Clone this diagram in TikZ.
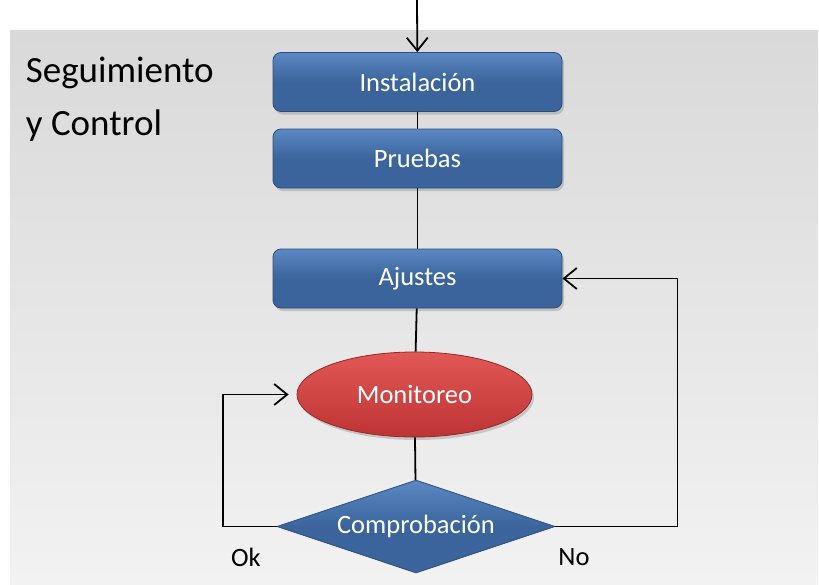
\documentclass[tikz,border=0pt]{standalone}
\usepackage{fontspec}
\setmainfont{Carlito}
\usepackage{tikz}
\usetikzlibrary{shapes.geometric}
\usetikzlibrary{arrows.meta}
\usetikzlibrary{shadows}

\definecolor{azulA}{RGB}{92,136,196}
\definecolor{azulB}{RGB}{58,100,155}
\definecolor{azulBorde}{RGB}{44,77,122}
\definecolor{rojoA}{RGB}{226,88,86}
\definecolor{rojoB}{RGB}{190,52,52}
\definecolor{rojoBorde}{RGB}{150,40,40}
\definecolor{fondoA}{RGB}{217,217,217}
\definecolor{fondoB}{RGB}{242,242,242}

\begin{document}
\begin{tikzpicture}[
    x=1pt, y=-1pt,
    paso/.style={rectangle, rounded corners=8pt, draw=azulBorde, line width=0.8pt,
      top color=azulA, bottom color=azulB, middle color=azulB,
      minimum width=289pt, minimum height=59pt, inner sep=0pt,
      text=white, font=\fontsize{26.5}{30}\selectfont,
      drop shadow={opacity=0.35, shadow xshift=2pt, shadow yshift=-3pt}},
    monitor/.style={ellipse, draw=rojoBorde, line width=0.8pt,
      top color=rojoA, bottom color=rojoB,
      minimum width=235pt, minimum height=85pt, inner sep=0pt,
      text=white, font=\fontsize{26.5}{30}\selectfont,
      drop shadow={opacity=0.35, shadow xshift=2pt, shadow yshift=-3pt}},
    decision/.style={diamond, aspect=3, draw=azulBorde, line width=0.8pt,
      top color=azulA, bottom color=azulB, middle color=azulB,
      minimum width=278pt, minimum height=93pt, inner sep=0pt,
      text=white, font=\fontsize{26.5}{30}\selectfont},
    etiqueta/.style={font=\fontsize{26.5}{30}\selectfont, inner sep=0pt},
    flecha/.style={-{Straight Barb[length=13pt,width=21pt,line width=1.8pt]}},
    line width=1.8pt
  ]

  \useasboundingbox (0,0) rectangle (819,584);
  \fill[white] (0,0) rectangle (819,584);
  \shade[top color=fondoA, bottom color=fondoB] (10,30) rectangle (818,584);

  % Title
  \node[etiqueta, anchor=north west, align=left,
    font=\fontsize{37}{53}\selectfont] (titulo) at (25,56)
    {Seguimiento\\y Control};

  % Nodes
  \coordinate (entrada) at (417,0);
  \node[paso] (inst) at (417.5, 82)    {Instalación};
  \node[paso] (prue) at (417.5, 158.5) {Pruebas};
  \node[paso] (ajus) at (417.5, 278.5) {Ajustes};
  \node[monitor] (moni) at (414.5, 394.5) {Monitoreo};
  \node[decision] (comp) at (416, 526.5) {Comprobación};

  % Edges
  \draw[flecha] (entrada) -- (inst);
  \draw (inst) -- (prue);
  \draw (prue) -- (ajus);
  \draw (ajus) -- (moni);
  \draw (moni) -- (comp);
  \draw[flecha, shorten >=8pt] (comp.west) -- ++(-54,0) |- (moni.west);
  \draw[flecha] (comp.east) -- ++(122,0) |- (ajus.east);

  % Labels (no boxes)
  \node[etiqueta] (ok) at (246,557) {Ok};
  \node[etiqueta] (no) at (574,557) {No};

\end{tikzpicture}
\end{document}
